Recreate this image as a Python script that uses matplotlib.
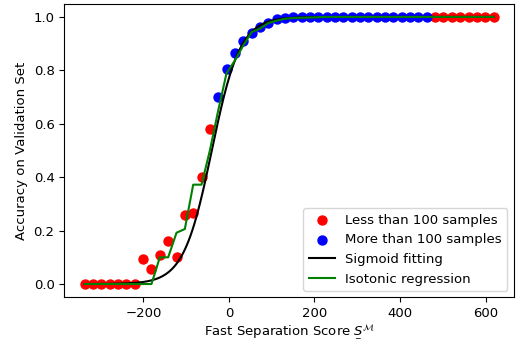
import matplotlib
matplotlib.use("Agg")
import numpy as np
import matplotlib.pyplot as plt
from matplotlib.mathtext import MathTextParser

# -----------------------------------------------------
# Data
# -----------------------------------------------------

# bins with fewer than 100 samples (low end and high end)
low_scores = [-337, -317.5, -298, -278.5, -259, -239.5, -220, -200.5,
              -181, -161.5, -142, -122.5, -103, -83.5, -64, -44.5]
low_acc = [0.0, 0.0, 0.0, 0.0, 0.0, 0.0, 0.0, 0.093,
           0.055, 0.108, 0.160, 0.100, 0.258, 0.267, 0.401, 0.580]

high_scores = [482, 501.5, 521, 540.5, 560, 579.5, 599, 618.5]
high_acc = [1.0, 1.0, 1.0, 1.0, 1.0, 1.0, 1.0, 1.0]

# bins with more than 100 samples
blue_scores = [-25, -5.5, 14, 33.5, 53, 72.5, 92, 111.5, 131, 150.5,
               170, 189.5, 209, 228.5, 248, 267.5, 287, 306.5, 326, 345.5,
               365, 384.5, 404, 423.5, 443, 462.5]
blue_acc = [0.699, 0.805, 0.864, 0.909, 0.938, 0.963, 0.978, 0.992, 0.996, 0.998,
            0.998, 0.999, 0.999, 1.0, 1.0, 1.0, 1.0, 1.0, 1.0, 1.0,
            1.0, 1.0, 1.0, 1.0, 1.0, 1.0]

# isotonic regression, evaluated at every bin score
iso_scores = low_scores + blue_scores + high_scores
iso_acc = [0.0, 0.0, 0.0, 0.0, 0.0, 0.0, 0.0, 0.0,
           0.0, 0.100, 0.100, 0.192, 0.206, 0.372, 0.372, 0.500,
           0.650, 0.790, 0.837, 0.893, 0.943, 0.956, 0.977, 0.986, 0.993, 0.996,
           0.997, 0.998, 0.999, 1.0, 1.0, 1.0, 1.0, 1.0, 1.0, 1.0,
           1.0, 1.0, 1.0, 1.0, 1.0, 1.0,
           1.0, 1.0, 1.0, 1.0, 1.0, 1.0, 1.0, 1.0]

# fitted sigmoid parameters
SIGMOID_CENTER = -40.0
SIGMOID_SCALE = 33.0

red_scores = low_scores + high_scores
red_acc = low_acc + high_acc


def sigmoid(x):
    return 1.0 / (1.0 + np.exp(-(x - SIGMOID_CENTER) / SIGMOID_SCALE))


def pick_label():
    # \underline is not available in every mathtext version
    candidates = [
        r"Fast Separation Score $\underline{S}^{\mathcal{M}}$",
        r"Fast Separation Score $\underset{\_}{S}^{\mathcal{M}}$",
        r"Fast Separation Score $S^{\mathcal{M}}$",
    ]
    parser = MathTextParser("path")
    for c in candidates:
        try:
            parser.parse(c[c.index("$"):])
            return c
        except Exception:
            continue
    return candidates[-1]


# -----------------------------------------------------
# Plot
# -----------------------------------------------------
plt.rcParams["font.size"] = 9.5

fig = plt.figure(figsize=(5.16, 3.43), dpi=100)
ax = fig.add_axes([0.1246, 0.133, 0.8715, 0.8566])

ax.scatter(red_scores, red_acc, color="red", s=42, label="Less than 100 samples")
ax.scatter(blue_scores, blue_acc, color="blue", s=42, label="More than 100 samples")

grid = np.linspace(min(iso_scores), max(iso_scores), 400)
ax.plot(grid, sigmoid(grid), color="black", lw=1.5, label="Sigmoid fitting")
ax.plot(iso_scores, iso_acc, color="green", lw=1.5, label="Isotonic regression")

ax.set_xlabel(pick_label(), labelpad=1.5)
ax.set_ylabel("Accuracy on Validation Set")
ax.set_xticks([-200, 0, 200, 400, 600])
ax.legend(loc="lower right")

fig.savefig("out.png", dpi=100)
